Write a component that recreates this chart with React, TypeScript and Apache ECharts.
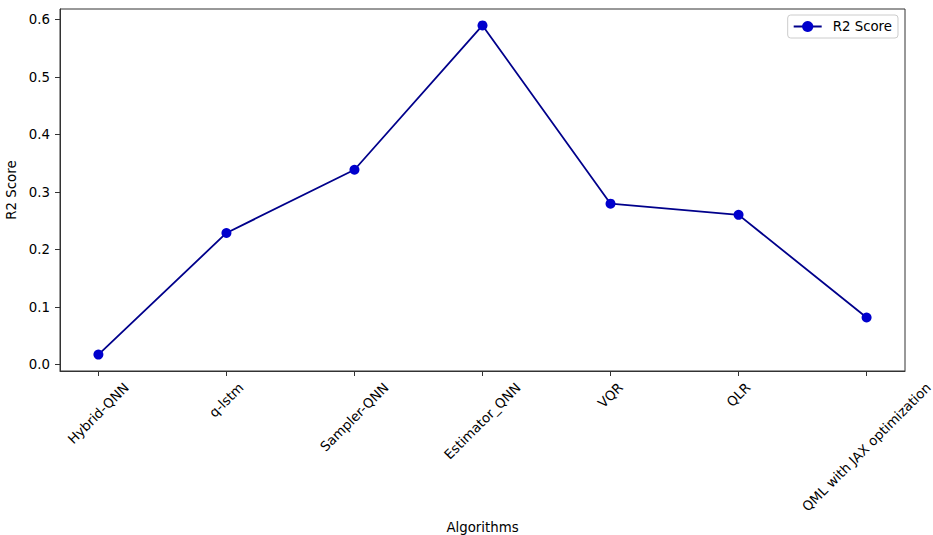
import React, { useEffect, useRef } from "react";
import * as echarts from "echarts";

const categories = [
  "Hybrid-QNN",
  "q-lstm",
  "Sampler-QNN",
  "Estimator_QNN",
  "VQR",
  "QLR",
  "QML with JAX optimization",
];
const r2Scores = [0.0175, 0.229, 0.339, 0.59, 0.28, 0.2605, 0.082];
const yTicks = [0, 0.1, 0.2, 0.3, 0.4, 0.5, 0.6];
const seriesName = "R2 Score";
const xName = "Algorithms";
const yName = "R2 Score";

const FONT = '"DejaVu Sans", sans-serif';
const FS = 13.33;

export default function App() {
  const ref = useRef<HTMLDivElement>(null);
  useEffect(() => {
    document.body.style.margin = "0";
    if (!ref.current) return;
    const chart = echarts.init(ref.current, undefined, { renderer: "svg" });

    const canvas = document.createElement("canvas");
    const ctx = canvas.getContext("2d")!;
    ctx.font = FS + 'px "DejaVu Sans"';
    const lineH = 15;
    const rich: Record<string, any> = {};
    categories.forEach((c, i) => {
      const L = ctx.measureText(c).width;
      const p = 0.5 * (L + lineH);
      rich["r" + i] = {
        fontSize: FS,
        fontFamily: FONT,
        color: "#000",
        padding: [p, p, 0, 0],
      };
    });
    const idx = categories.map((_, i) => i);

    chart.setOption({
      animation: false,
      textStyle: { fontFamily: FONT },
      grid: {
        left: 60,
        right: 28,
        top: 9,
        bottom: 164,
        containLabel: false,
        outerBoundsMode: "none",
        show: true,
        borderColor: "#333",
        borderWidth: 1,
      },
      legend: {
        right: 35,
        top: 15,
        padding: [5, 6, 5, 5],
        borderColor: "#ccc",
        borderWidth: 1,
        borderRadius: 3,
        backgroundColor: "#fff",
        itemWidth: 28,
        itemHeight: 14,
        textStyle: { fontSize: FS, color: "#000", fontFamily: FONT, padding: [0, 0, 0, 6] },
        data: [seriesName],
      },
      xAxis: {
        type: "value",
        min: -0.3,
        max: 6.3,
        name: xName,
        nameLocation: "middle",
        nameGap: 141,
        nameTextStyle: { fontSize: FS, color: "#000", fontFamily: FONT },
        splitLine: { show: false },
        axisLine: { show: true, onZero: false, lineStyle: { color: "#333", width: 1 } },
        axisTick: { show: true, length: 5, customValues: idx, lineStyle: { color: "#333" } },
        axisLabel: {
          customValues: idx,
          rotate: 45,
          align: "center",
          verticalAlign: "middle",
          margin: 9,
          fontSize: FS,
          color: "#000",
          fontFamily: FONT,
          formatter: (v: number) => `{r${Math.round(v)}|${categories[Math.round(v)]}}`,
          rich,
        },
      },
      yAxis: {
        type: "value",
        min: -0.0111,
        max: 0.6186,
        name: yName,
        nameLocation: "middle",
        nameGap: 30,
        nameTextStyle: { fontSize: FS, color: "#000", fontFamily: FONT },
        splitLine: { show: false },
        axisLine: { show: true, onZero: false, lineStyle: { color: "#333", width: 1 } },
        axisTick: { show: true, length: 5, customValues: yTicks, lineStyle: { color: "#333" } },
        axisLabel: {
          customValues: yTicks,
          margin: 10,
          fontSize: FS,
          color: "#000",
          fontFamily: FONT,
          formatter: (v: number) => v.toFixed(1),
        },
      },
      series: [
        {
          name: seriesName,
          type: "line",
          data: r2Scores.map((v, i) => [i, v]),
          symbol: "circle",
          symbolSize: 10,
          lineStyle: { color: "#00008B", width: 1.8 },
          itemStyle: { color: "#0000CD" },
          color: "#0000CD",
        },
      ],
    });
    return () => chart.dispose();
  }, []);
  return <div ref={ref} style={{ width: 933, height: 535 }} />;
}
